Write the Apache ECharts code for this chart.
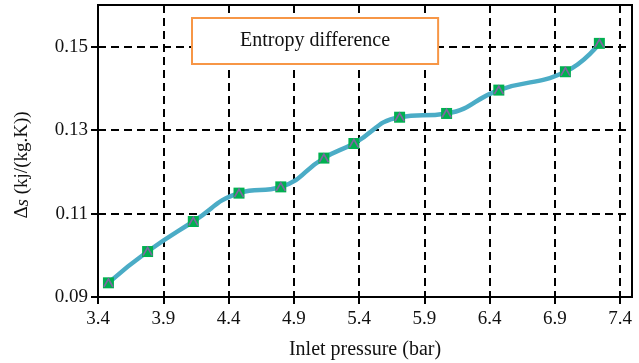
<!DOCTYPE html>
<html>
<head>
<meta charset="utf-8">
<script src="https://cdn.jsdelivr.net/npm/echarts@6/dist/echarts.min.js"></script>
<style>
  html, body { margin: 0; padding: 0; background: #fff; }
  #chart { width: 639px; height: 363px; }
</style>
</head>
<body>
<div id="chart"></div>
<script>
// Inlet pressure (bar) and entropy difference (kJ/(kg.K))
const pressure = [3.48, 3.78, 4.13, 4.48, 4.80, 5.13, 5.36, 5.71, 6.07, 6.47, 6.98, 7.24];
const entropyDiff = [0.0934, 0.1009, 0.1081, 0.1149, 0.1164, 0.1233, 0.1268, 0.1331, 0.1340, 0.1396, 0.1440, 0.1508];
const xTicks = [3.4, 3.9, 4.4, 4.9, 5.4, 5.9, 6.4, 6.9, 7.4];
const yTicks = [0.09, 0.11, 0.13, 0.15];

const serif = '"Liberation Serif", "DejaVu Serif", serif';
const points = pressure.map((p, i) => [p, entropyDiff[i]]);

const chart = echarts.init(document.getElementById('chart'));
chart.setOption({
  animation: false,
  backgroundColor: '#ffffff',
  grid: {
    left: 98, right: 7, top: 5, bottom: 66,
    outerBoundsMode: 'none',
    show: true, borderColor: '#000', borderWidth: 2, backgroundColor: 'transparent'
  },
  legend: {
    data: ['Entropy difference'],
    left: 192, top: 18,
    itemWidth: 0, itemHeight: 0, itemGap: 0,
    padding: [13, 48, 13, 42],
    backgroundColor: '#fff',
    borderColor: '#f79646', borderWidth: 2, borderRadius: 0,
    textStyle: { fontFamily: serif, fontSize: 20, color: '#111' },
    selectedMode: false
  },
  xAxis: {
    type: 'value', min: 3.4, max: 7.49,
    name: 'Inlet pressure (bar)', nameLocation: 'middle', nameGap: 43,
    nameTextStyle: { fontFamily: serif, fontSize: 20, color: '#111' },
    axisLine: { onZero: false, lineStyle: { color: '#000', width: 2 } },
    axisTick: { customValues: xTicks, length: 7, lineStyle: { color: '#000', width: 2 } },
    axisLabel: { customValues: xTicks, fontFamily: serif, fontSize: 19, color: '#111', margin: 13,
                 formatter: v => v.toFixed(1) },
    splitLine: { show: true, lineStyle: { color: '#000', width: 2, type: [8, 5] } }
  },
  yAxis: {
    type: 'value', min: 0.09, max: 0.16,
    name: '{d|Δ}{i|s} (kj/(kg.K))', nameLocation: 'middle', nameGap: 66,
    nameTextStyle: {
      fontFamily: serif, fontSize: 19, color: '#111', padding: [0, 28, 0, 0],
      rich: {
        d: { fontFamily: serif, fontSize: 19, color: '#111' },
        i: { fontFamily: serif, fontSize: 19, fontStyle: 'italic', color: '#111' }
      }
    },
    axisLine: { onZero: false, lineStyle: { color: '#000', width: 2 } },
    axisTick: { customValues: yTicks, length: 7, lineStyle: { color: '#000', width: 2 } },
    axisLabel: { customValues: yTicks, fontFamily: serif, fontSize: 19, color: '#111', margin: 10,
                 formatter: v => v.toFixed(2) },
    splitLine: { show: true, lineStyle: { color: '#000', width: 2, type: [8, 5] } }
  },
  series: [
    {
      name: 'Entropy difference',
      type: 'line',
      data: points,
      smooth: 0.5,
      showSymbol: false,
      lineStyle: { color: '#4bacc6', width: 4.5 },
      itemStyle: { color: '#4bacc6' },
      z: 2
    },
    {
      name: 'square',
      type: 'scatter',
      data: points,
      symbol: 'rect',
      symbolSize: 11,
      itemStyle: { color: '#00b050', opacity: 1 },
      z: 3
    },
    {
      name: 'triangle',
      type: 'scatter',
      data: points,
      symbol: 'path://M0,10 L5,0 L10,10',
      symbolSize: [9, 8],
      itemStyle: { color: 'transparent', borderColor: '#8064a2', borderWidth: 1.6, opacity: 1 },
      z: 4
    }
  ]
});
</script>
</body>
</html>
